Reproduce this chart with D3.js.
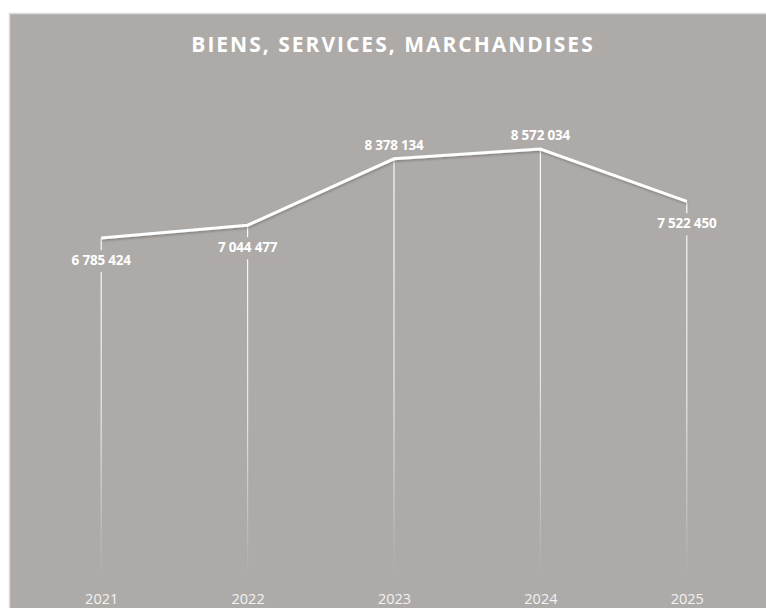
<!DOCTYPE html>
<html>
<head>
<meta charset="utf-8">
<script src="https://cdn.jsdelivr.net/npm/d3@7"></script>
<style>
  body { margin: 0; background: #ffffff; }
  svg { display: block; }
</style>
</head>
<body>
<div id="chart"></div>
<script>
// values
const years = ["2021", "2022", "2023", "2024", "2025"];
const totals = [6785424, 7044477, 8378134, 8572034, 7522450];
const labelAbove = [false, false, true, true, false];
const chartTitle = "BIENS, SERVICES, MARCHANDISES";

const width = 766, height = 608;
const bg = "#aeaaa8";

let svg = d3.select("#chart")
    .append("svg")
    .attr("width", width)
    .attr("height", height);

// chart box
svg.append("rect")
    .attr("x", 9.5).attr("y", 13.5)
    .attr("width", width).attr("height", height)
    .attr("fill", bg)
    .attr("stroke", "#dcdcdc")
    .attr("stroke-width", 1.5);

let data = years.map(function(y, i) { return { year: y, value: totals[i], above: labelAbove[i] }; });

let x = d3.scalePoint()
    .domain(years)
    .range([28, 760])
    .padding(0.5);

let y = d3.scaleLinear()
    .domain([0, 10000000])
    .range([576, 78]);

let defs = svg.append("defs");

// drop-line gradients, one per point
data.forEach(function(d, i) {
    let g = defs.append("linearGradient")
        .attr("id", "fade" + i)
        .attr("gradientUnits", "userSpaceOnUse")
        .attr("x1", 0).attr("x2", 0)
        .attr("y1", y(d.value)).attr("y2", y(0));
    g.append("stop").attr("offset", "0%").attr("stop-color", "#fff").attr("stop-opacity", 0.95);
    g.append("stop").attr("offset", "55%").attr("stop-color", "#fff").attr("stop-opacity", 0.7);
    g.append("stop").attr("offset", "100%").attr("stop-color", "#fff").attr("stop-opacity", 0);
});

let shadow = defs.append("filter").attr("id", "shadow")
    .attr("x", "-5%").attr("y", "-20%").attr("width", "110%").attr("height", "140%");
shadow.append("feDropShadow")
    .attr("dx", 0.5).attr("dy", 1.5).attr("stdDeviation", 1)
    .attr("flood-color", "#000").attr("flood-opacity", 0.25);

// drop lines
svg.append("g").selectAll("line").data(data).enter()
    .append("line")
    .attr("x1", function(d) { return x(d.year); })
    .attr("x2", function(d) { return x(d.year); })
    .attr("y1", function(d) { return y(d.value); })
    .attr("y2", y(0))
    .attr("stroke", function(d, i) { return "url(#fade" + i + ")"; })
    .attr("stroke-width", 1.2);

// background patches behind the labels that sit below the line (hide the drop line)
let patches = svg.append("g");

// main line
let line = d3.line()
    .x(function(d) { return x(d.year); })
    .y(function(d) { return y(d.value); });

svg.append("path")
    .datum(data)
    .attr("d", line)
    .attr("fill", "none")
    .attr("stroke", "#ffffff")
    .attr("stroke-width", 3)
    .attr("filter", "url(#shadow)");

// data labels
let labels = svg.append("g").selectAll("text").data(data).enter()
    .append("text")
    .attr("x", function(d) { return x(d.year); })
    .attr("y", function(d) { return d.above ? y(d.value) - 9 : y(d.value) + 27; })
    .attr("text-anchor", "middle")
    .attr("fill", "#ffffff")
    .style("font-family", "'Open Sans', sans-serif")
    .style("font-weight", "bold")
    .style("font-size", "13.5px")
    .style("letter-spacing", "-0.2px")
    .text(function(d) { return d3.format(",")(d.value).replace(/,/g, " "); });

labels.each(function(d) {
    if (d.above) return;
    let t = this.getBBox();
    patches.append("rect")
        .attr("x", t.x - 2).attr("y", t.y - 1)
        .attr("width", t.width + 4).attr("height", t.height + 4)
        .attr("fill", bg);
});

// x axis labels
svg.append("g")
    .attr("transform", `translate(0, 604)`)
    .call(d3.axisBottom(x).tickSize(0).tickPadding(0))
    .call(function(g) { g.select(".domain").remove(); })
    .selectAll("text")
    .attr("dy", 0)
    .attr("fill", "#f2f2f2")
    .style("font-family", "'Open Sans', sans-serif")
    .style("font-size", "14.5px");

// title
svg.append("text")
    .attr("x", 393)
    .attr("y", 52)
    .attr("text-anchor", "middle")
    .attr("fill", "#ffffff")
    .style("font-family", "'Open Sans', sans-serif")
    .style("font-weight", "bold")
    .style("font-size", "21px")
    .style("letter-spacing", "2px")
    .text(chartTitle);
</script>
</body>
</html>
